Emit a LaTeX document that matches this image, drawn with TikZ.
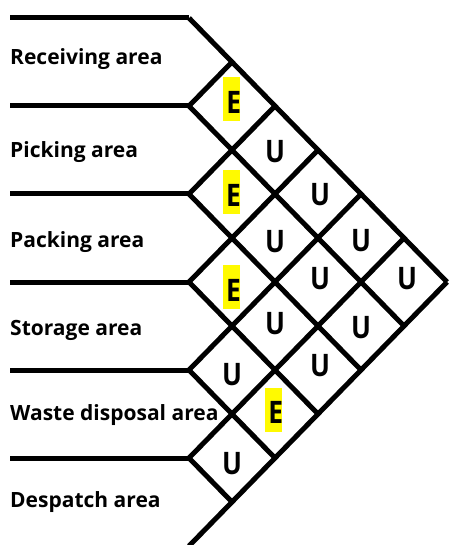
\documentclass[tikz,border=0pt]{standalone}
\usepackage{fontspec}
\usepackage{graphicx}
\setmainfont{Open Sans}
\definecolor{hl}{RGB}{255,250,0}
\tikzset{
  grid/.style={line width=5pt, line join=miter},
  lab/.style={anchor=base west, inner sep=0pt, font=\fontsize{21}{22}\selectfont\bfseries},
  rel/.style={anchor=center, inner sep=0pt, font=\fontsize{31}{32}\selectfont\bfseries},
}
\newcommand{\rl}[1]{\scalebox{0.85}[1]{#1}}
\begin{document}
\begin{tikzpicture}[x=1pt,y=-1pt]
\useasboundingbox (0,0) rectangle (448,545);
% highlights behind E
\foreach \cx/\cy in {233.7/102, 233.5/195, 233.5/290, 275.7/412.5}{
  \fill[hl] (\cx-10.5,\cy-25) rectangle (\cx+6.5,\cy+19);
}
% grid
\foreach \k in {0,...,6}{
  \pgfmathsetmacro{\yk}{18+88*\k}
  \coordinate (L\k) at (189,\yk);
}
\foreach \k in {0,...,5}{
  \coordinate (H\k) at (10,18+88*\k);
  \draw[grid] (H\k) -- (L\k);
}
\foreach \k in {0,...,5}{
  \pgfmathsetmacro{\t}{6-\k}
  \draw[grid] (L\k) -- ++(43*\t,44*\t);
}
\foreach \k in {1,...,6}{
  \draw[grid] (L\k) -- ++(43*\k,-44*\k);
}
% area labels
\node[lab] (a1) at (10,65) {Receiving area};
\node[lab] (a2) at (10,158) {Picking area};
\node[lab] (a3) at (10,247) {Packing area};
\node[lab] (a4) at (10,335) {Storage area};
\node[lab] (a5) at (10,420) {Waste disposal area};
\node[lab] (a6) at (10,507) {Despatch area};
% relationship letters (letter centres)
\foreach \n/\x/\y/\r in {12/233.7/102/E, 23/233.5/195/E, 34/233.5/290/E, 45/232/375/U, 56/232/463.3/U,
  13/275/151.7/U, 24/275/241.5/U, 35/275/324/U, 46/275.7/412.5/E,
  14/320/195/U, 25/320/279/U, 36/320/365.3/U,
  15/361/241/U, 26/361/327.5/U,
  16/407/278.7/U}{
  \node[rel] (r\n) at (\x,\y) {\rl{\r}};
}
\end{tikzpicture}
\end{document}
